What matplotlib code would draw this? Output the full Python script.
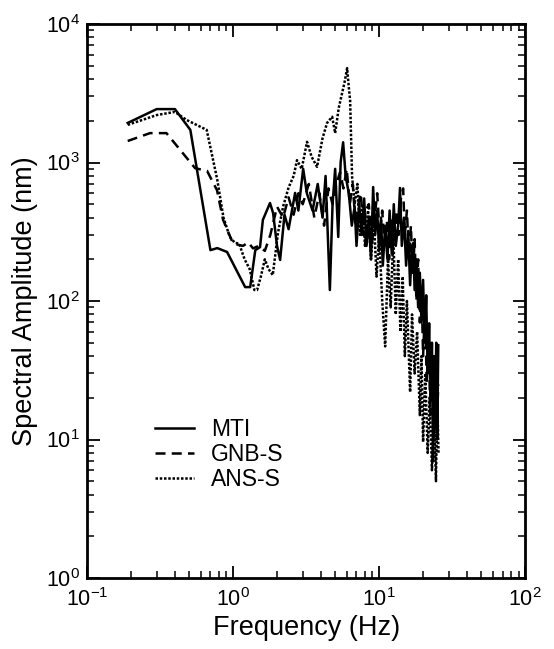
import matplotlib
matplotlib.use("Agg")
import matplotlib.pyplot as plt
from matplotlib.ticker import LogLocator, NullFormatter

plt.rcParams["font.family"] = ["Liberation Sans", "DejaVu Sans"]
plt.rcParams["mathtext.default"] = "regular"

# MTI (solid)
mti_f = [0.19, 0.30, 0.40, 0.51, 0.70, 0.78, 0.91, 1.21, 1.31, 1.42, 1.53, 1.60, 1.79, 1.88,
         2.00, 2.10, 2.25, 2.40, 2.66, 2.80, 3.02, 3.2, 3.5, 3.8, 4.1, 4.3, 4.6, 4.8, 5.0,
         5.25, 5.45, 5.67, 5.9, 6.2, 6.5, 6.8, 7.0, 7.3, 7.6, 7.9, 8.2, 8.5, 8.8, 9.1, 9.4,
         9.7, 10.0, 10.3, 10.6, 11.0, 11.4, 11.8, 12.2, 12.6, 13.0, 13.5, 13.9, 14.3, 14.8,
         15.3, 15.8, 16.3, 16.8, 17.1, 17.5, 18.0, 18.5, 19.0, 19.5, 20.0, 20.5, 21.0, 21.5,
         22.0, 22.5, 23.0, 23.4, 23.8, 24.2, 24.6, 25.0, 25.4]
mti_a = [1930, 2430, 2430, 1720, 233, 241, 226, 126, 126, 233, 245, 385, 510, 432,
         250, 198, 420, 330, 603, 450, 900, 600, 450, 700, 400, 800, 120, 500, 900,
         290, 1000, 1400, 800, 600, 350, 480, 250, 500, 300, 550, 250, 400, 200, 665, 300,
         450, 230, 400, 180, 350, 200, 450, 220, 500, 250, 350, 655, 250, 400,
         180, 320, 130, 250, 262, 120, 200, 90, 160, 70, 142, 50, 110, 30,
         69, 20, 50, 7, 40, 12, 50, 10, 48]

# GNB-S (dashed)
gnb_f = [0.19, 0.27, 0.35, 0.507, 0.55, 0.664, 0.777, 0.855, 1.0, 1.17, 1.27, 1.37, 1.5,
         1.65, 1.8, 2.0, 2.2, 2.4, 2.6, 2.8, 3.0, 3.3, 3.6, 3.9, 4.2, 4.5, 4.8, 5.1, 5.4,
         5.7, 6.0, 6.3, 6.6, 6.9, 7.2, 7.5, 7.8, 8.1, 8.5, 8.9, 9.3, 9.7, 10.1, 10.5, 10.9,
         11.3, 11.7, 12.1, 12.6, 13.1, 13.6, 14.1, 14.6, 15.0, 15.5, 16.0, 16.5, 17.0,
         17.5, 18.0, 18.5, 19.0, 19.5, 20.0, 20.6, 21.2, 21.8, 22.4, 23.0, 23.6, 24.2,
         24.8, 25.4]
gnb_a = [1430, 1630, 1630, 1010, 910, 870, 630, 385, 260, 250, 265, 240, 250,
         230, 300, 480, 400, 560, 420, 600, 500, 700, 400, 600, 350, 650, 500, 700, 850,
         650, 900, 500, 700, 350, 500, 600, 300, 450, 500, 250, 400, 600, 300, 450, 250,
         380, 200, 400, 250, 450, 300, 550, 650, 300, 450, 200, 350, 150,
         280, 100, 200, 70, 130, 40, 90, 25, 60, 15, 40, 10, 30,
         12, 25]

# ANS-S (dotted)
ans_f = [0.19, 0.30, 0.40, 0.48, 0.66, 0.78, 0.86, 0.95, 1.03, 1.10, 1.20, 1.30, 1.40,
         1.46, 1.55, 1.65, 1.75, 1.87, 2.03, 2.20, 2.40, 2.60, 2.74, 2.95, 3.21, 3.45,
         3.76, 4.1, 4.4, 4.77, 5.0, 5.3, 5.58, 5.8, 6.04, 6.2, 6.33, 6.53, 6.8, 7.1, 7.4,
         7.7, 8.0, 8.4, 8.8, 9.2, 9.6, 10.0, 10.5, 11.0, 11.5, 12.0, 12.5, 13.0, 13.5,
         14.0, 14.5, 15.0, 15.5, 16.3, 16.8, 17.5, 18.2, 19.0, 19.5, 20.0, 20.7, 21.5,
         22.2, 23.0, 23.8, 24.5, 25.0, 25.5]
ans_a = [1870, 2200, 2320, 2030, 1720, 750, 400, 290, 263, 260, 200, 170, 120,
         120, 150, 200, 170, 154, 310, 480, 660, 800, 1040, 900, 1410, 1100,
         930, 1500, 1930, 2140, 1630, 2500, 3170, 3800, 4800, 3500, 2820, 790, 500, 700, 300,
         500, 250, 450, 200, 400, 150, 300, 100, 47, 200, 90, 300, 80, 200,
         60, 150, 40, 100, 22, 80, 30, 60, 15, 40, 9.6, 30, 8,
         20, 6, 15, 5, 20, 8]

fig = plt.figure(figsize=(5.54, 6.49), dpi=100)
ax = fig.add_axes([0.157, 0.1094, 0.791, 0.8536])

ax.plot(mti_f, mti_a, color="black", lw=1.8, ls="-", label="MTI")
ax.plot(gnb_f, gnb_a, color="black", lw=1.8, ls=(0, (4, 2.5)), label="GNB-S")
ax.plot(ans_f, ans_a, color="black", lw=1.8, ls=(0, (1, 0.7)), label="ANS-S")

ax.set_xscale("log")
ax.set_yscale("log")
ax.set_xlim(0.1, 100)
ax.set_ylim(1, 1e4)

for axis in (ax.xaxis, ax.yaxis):
    axis.set_major_locator(LogLocator(base=10, numticks=10))
    axis.set_minor_locator(LogLocator(base=10, subs=range(2, 10), numticks=20))
    axis.set_minor_formatter(NullFormatter())

ax.tick_params(which="both", direction="in", top=True, right=True, labelsize=15.5)
ax.tick_params(which="major", length=9, width=1.3)
ax.tick_params(which="minor", length=5, width=1.1)
ax.tick_params(axis="x", pad=7)
ax.tick_params(axis="y", pad=5)
for s in ax.spines.values():
    s.set_linewidth(2.0)

ax.set_xlabel("Frequency (Hz)", fontsize=19.5, labelpad=3)
ax.set_ylabel("Spectral Amplitude (nm)", fontsize=19.5, labelpad=6)

ax.legend(loc="upper left", bbox_to_anchor=(0.155, 0.289), frameon=False, fontsize=16.5,
          handlelength=1.7, handletextpad=0.75, labelspacing=0.1, borderaxespad=0,
          borderpad=0)

fig.savefig("out.png", dpi=100)
